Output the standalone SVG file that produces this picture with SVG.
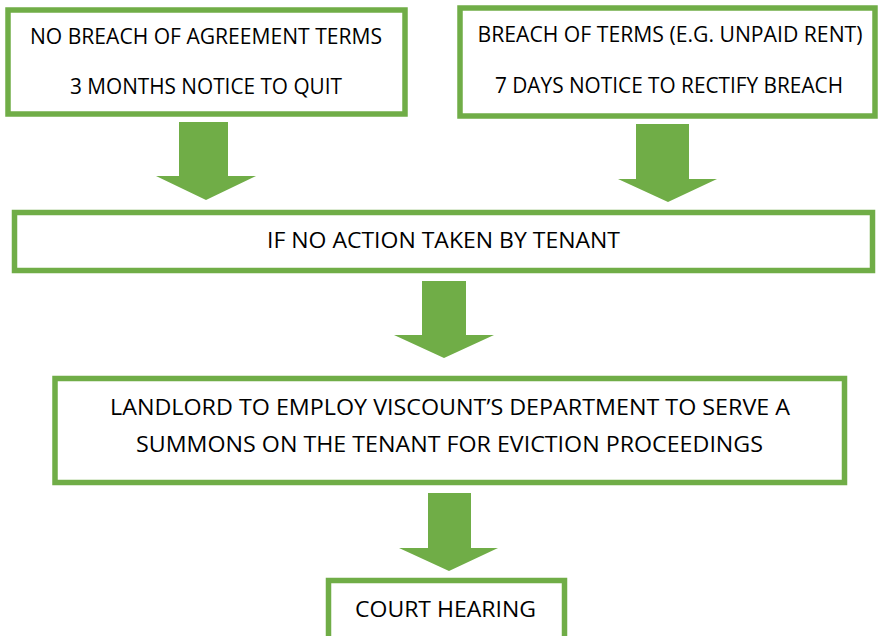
<svg xmlns="http://www.w3.org/2000/svg" width="881" height="636" viewBox="0 0 881 636">
<style>
.box{fill:#fff;stroke:#70AD47;stroke-width:5.5}
.arr{fill:#70AD47}
text{font-family:"Open Sans","Liberation Sans",Arial,sans-serif;font-size:22px;fill:#000;text-anchor:middle}
</style>
<rect width="881" height="636" fill="#fff"/>
<g id="connectors">
<polygon class="arr" points="179,122 228,122 228,176 256,176 206,200 156,176 179,176"/>
<polygon class="arr" points="636,124 689,124 689,179 717,179 668,202 618,179 636,179"/>
<polygon class="arr" points="422,281 466,281 466,335 494,335 444,358 394,335 422,335"/>
<polygon class="arr" points="428,493 471,493 471,548 498,548 449,571 399,548 428,548"/>
</g>
<g id="node1">
<rect class="box" x="8" y="10" width="397" height="104"/>
<text x="206" y="44" textLength="352" lengthAdjust="spacingAndGlyphs">NO BREACH OF AGREEMENT TERMS</text>
<text x="206" y="94" textLength="272" lengthAdjust="spacingAndGlyphs">3 MONTHS NOTICE TO QUIT</text>
</g>
<g id="node2">
<rect class="box" x="460" y="8" width="415" height="108"/>
<text x="670" y="42" textLength="385" lengthAdjust="spacingAndGlyphs">BREACH OF TERMS (E.G. UNPAID RENT)</text>
<text x="669" y="93" textLength="348" lengthAdjust="spacingAndGlyphs">7 DAYS NOTICE TO RECTIFY BREACH</text>
</g>
<g id="node3">
<rect class="box" x="14.5" y="212.5" width="858" height="58"/>
<text x="443.5" y="248" textLength="353" lengthAdjust="spacingAndGlyphs">IF NO ACTION TAKEN BY TENANT</text>
</g>
<g id="node4">
<rect class="box" x="55" y="378.5" width="789.5" height="104"/>
<text x="450" y="415" textLength="680" lengthAdjust="spacingAndGlyphs">LANDLORD TO EMPLOY VISCOUNT’S DEPARTMENT TO SERVE A</text>
<text x="449.5" y="452" textLength="627" lengthAdjust="spacingAndGlyphs">SUMMONS ON THE TENANT FOR EVICTION PROCEEDINGS</text>
</g>
<g id="node5">
<rect class="box" x="328.5" y="580.5" width="236" height="70"/>
<text x="445.5" y="617" textLength="181" lengthAdjust="spacingAndGlyphs">COURT HEARING</text>
</g>
</svg>
